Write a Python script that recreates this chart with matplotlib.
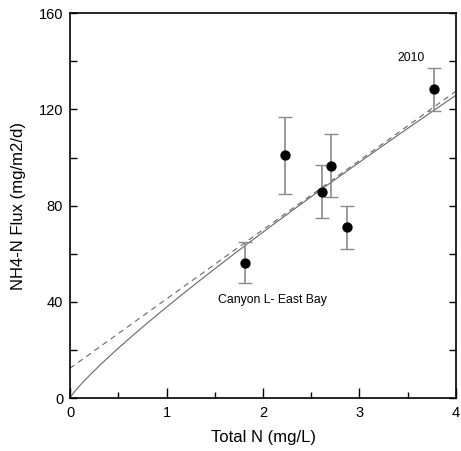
import numpy as np
import matplotlib
matplotlib.use("Agg")
import matplotlib.pyplot as plt

plt.rcParams['font.family'] = ['Liberation Sans', 'DejaVu Sans']

# Data
total_n = [1.81, 2.23, 2.61, 2.71, 2.87, 3.77]
nh4_flux = [56.3, 101.0, 85.8, 96.6, 71.0, 128.4]
flux_err = [8.5, 16.0, 11.0, 13.0, 9.0, 9.0]

# Fit curves
power_a, power_b = 37.8, 0.868      # solid: y = a * x^b
lin_intercept, lin_slope = 12.4, 28.8  # dashed: y = c + m*x

x_ticks = [0, 1, 2, 3, 4]
y_ticks = [0, 40, 80, 120, 160]

fig = plt.figure(figsize=(4.61, 4.51), dpi=100)
ax = fig.add_axes([0.152, 0.1175, 0.837, 0.853])

xf = np.linspace(0, 4, 400)
ax.plot(xf, power_a * xf ** power_b, color='#666666', lw=0.8, zorder=2)
ax.plot(xf, lin_intercept + lin_slope * xf, color='#666666', lw=0.8,
        dashes=(5, 4), zorder=2)

ax.errorbar(total_n, nh4_flux, yerr=flux_err, fmt='none', ecolor='#8a8a8a',
            elinewidth=1.2, capsize=5.3, capthick=1.0, zorder=3)
ax.plot(total_n, nh4_flux, 'o', color='black', ms=6.4, zorder=4)

ax.text(3.53, 141.3, '2010', ha='center', va='center', fontsize=8.8)
ax.text(2.10, 40.8, 'Canyon L- East Bay', ha='center', va='center', fontsize=8.8)

ax.set_xlim(0, 4)
ax.set_ylim(0, 160)
ax.set_xticks(x_ticks)
ax.set_xticks(np.arange(0.5, 4, 1.0), minor=True)
ax.set_yticks(y_ticks)
ax.set_yticks(np.arange(20, 160, 40), minor=True)
ax.tick_params(axis='x', which='major', direction='in', length=7, width=1,
               labelsize=10.5, pad=6, top=False)
ax.tick_params(axis='x', which='minor', direction='in', length=4.5, width=1, top=False)
ax.tick_params(axis='y', which='both', direction='in', length=4.8, width=1,
               labelsize=10.5, pad=5, right=True)
for s in ax.spines.values():
    s.set_linewidth(1.2)

ax.set_xlabel('Total N (mg/L)', fontsize=12, labelpad=7)
ax.set_ylabel('NH4-N Flux (mg/m2/d)', fontsize=12, labelpad=9)

fig.savefig('out.png', dpi=100)
